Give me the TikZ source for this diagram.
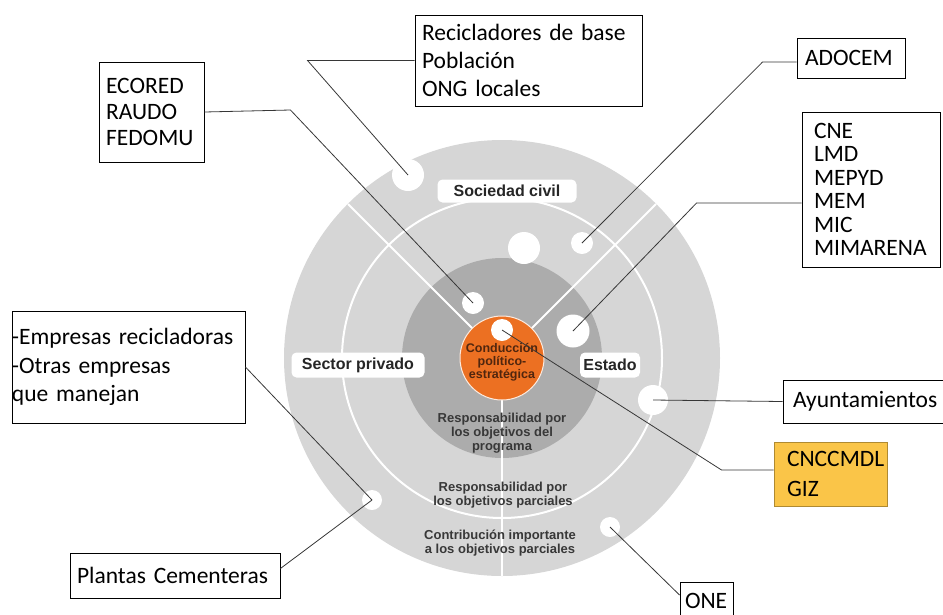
\documentclass[tikz,border=0pt]{standalone}
\usepackage{fontspec}
\setmainfont{Carlito}
\newfontfamily\diagfont{Liberation Sans}
\definecolor{ringgrey}{RGB}{214,214,214}
\definecolor{coregrey}{RGB}{172,172,172}
\definecolor{leadorange}{RGB}{236,112,34}
\definecolor{leadtext}{RGB}{80,38,14}
\definecolor{gizyellow}{RGB}{250,197,72}
\definecolor{leader}{RGB}{55,55,55}
\tikzset{
  actor/.style={draw=black, line width=0.9pt, align=left, inner ysep=0pt},
  spot/.style={circle, fill=white, inner sep=0pt},
  sector/.style={fill=white, rounded corners=5pt, inner sep=0pt,
    font=\diagfont\bfseries\fontsize{16}{18}\selectfont, text=black!85},
  level/.style={align=center, text=black!78,
    font=\diagfont\bfseries\fontsize{13}{14}\selectfont},
  spoke/.style={draw=white, line width=2pt},
  lead/.style={draw=leader, line width=0.8pt},
}
\begin{document}
\begin{tikzpicture}[x=1pt,y=-1pt]
\useasboundingbox (0,0) rectangle (943,614);
\coordinate (ctr) at (502,358);
\fill[ringgrey] (ctr) circle[radius=218pt];
\fill[coregrey] (ctr) circle[radius=100pt];
\draw[spoke] (ctr) circle[radius=160pt];
\draw[spoke] (ctr) -- ++(-154,-154);
\draw[spoke] (ctr) -- ++(154,-154);
\draw[spoke] (ctr) -- ++(0,218);
\node[circle, fill=leadorange, draw=white!85!leadorange, line width=1pt,
  minimum size=84pt, inner sep=0pt] (core) at (ctr) {};
\node[spot, minimum size=32pt] (d1) at (408,175) {};
\node[spot, minimum size=32pt] (d2) at (524,248) {};
\node[spot, minimum size=22pt] (d3) at (582,243) {};
\node[spot, minimum size=22pt] (d4) at (473,303) {};
\node[spot, minimum size=33pt] (d5) at (573,331) {};
\node[spot, minimum size=22pt] (d6) at (502,330) {};
\node[spot, minimum size=30pt] (d7) at (653,400) {};
\node[spot, minimum size=20pt] (d8) at (372,500) {};
\node[spot, minimum size=20pt] (d9) at (610,527) {};
\node[align=center, text=leadtext, font=\diagfont\bfseries\fontsize{12.5}{13}\selectfont]
  (corelabel) at (502,362) {Conducción\\político-\\estratégica};
\node[sector, minimum width=139pt, minimum height=23pt] (civil) at (507,191) {Sociedad civil};
\node[sector, minimum width=133pt, minimum height=25pt] (privado) at (358,365) {Sector privado};
\node[sector, minimum width=60pt, minimum height=25pt] (estado) at (610,365) {Estado};
\node[level] (prog) at (502,433) {Responsabilidad por\\los objetivos del\\programa};
\node[level] (parc) at (503,495) {Responsabilidad por\\los objetivos parciales};
\node[level] (contr) at (500,543) {Contribución importante\\a los objetivos parciales};
\node[actor, font=\fontsize{23.5}{28}\selectfont, text width=213pt, inner xsep=7pt,
  minimum height=91pt] (rec) at (528.5,60.5) {Recicladores de base\\Población\\ONG locales};
\node[actor, font=\fontsize{23.5}{26}\selectfont, text width=91pt, inner xsep=7pt,
  minimum height=100pt] (eco) at (151.5,112) {ECORED\\RAUDO\\FEDOMU};
\node[actor, font=\fontsize{23.5}{28}\selectfont, text width=92pt, inner xsep=8pt,
  minimum height=40pt] (adocem) at (851,58) {ADOCEM};
\node[actor, font=\fontsize{23.5}{23.5}\selectfont, text width=114pt, inner xsep=12pt,
  minimum height=155pt] (cne) at (871,189.5) {CNE\\LMD\\MEPYD\\MEM\\MIC\\MIMARENA};
\node[actor, font=\fontsize{23.5}{28.5}\selectfont, text width=233pt, inner xsep=0pt,
  minimum height=112pt] (emp) at (128.5,367) {-Empresas recicladoras\\-Otras empresas\\que manejan};
\node[actor, font=\fontsize{23.5}{28}\selectfont, text width=196pt, inner xsep=7pt,
  minimum height=45pt] (plantas) at (175,575.5) {Plantas Cementeras};
\node[actor, font=\fontsize{23.5}{28}\selectfont, text width=144pt, inner xsep=10pt,
  minimum height=43pt] (ayunt) at (865,401.5) {Ayuntamientos};
\node[actor, draw=gizyellow!70!black, fill=gizyellow, font=\fontsize{23.5}{30}\selectfont,
  text width=87pt, inner xsep=13pt, minimum height=64pt] (giz) at (830.5,474) {CNCCMDL\\GIZ};
\node[actor, font=\fontsize{23.5}{28}\selectfont, text width=43pt, inner xsep=5pt,
  minimum height=38pt] (one) at (706.5,601) {ONE};
\draw[lead] (rec.west) -- ++(-107,0) -- (d1.center);
\draw[lead] (eco.east) -- ++(86,-2) -- (d4.center);
\draw[lead] ([yshift=-4pt]adocem.west) -- ++(-34,0) -- (d3.center);
\draw[lead] ([yshift=-13.5pt]cne.west) -- ++(-105,0) -- (d5.center);
\draw[lead] (emp.east) -- (d8.center);
\draw[lead] ([yshift=7pt]plantas.east) -- (d8.center);
\draw[lead] (ayunt.west) -- (d7.center);
\draw[lead] ([yshift=4pt]giz.west) -- ++(-52,0) -- (d6.center);
\draw[lead] ([yshift=6pt]one.west) -- (d9.center);
\end{tikzpicture}
\end{document}
